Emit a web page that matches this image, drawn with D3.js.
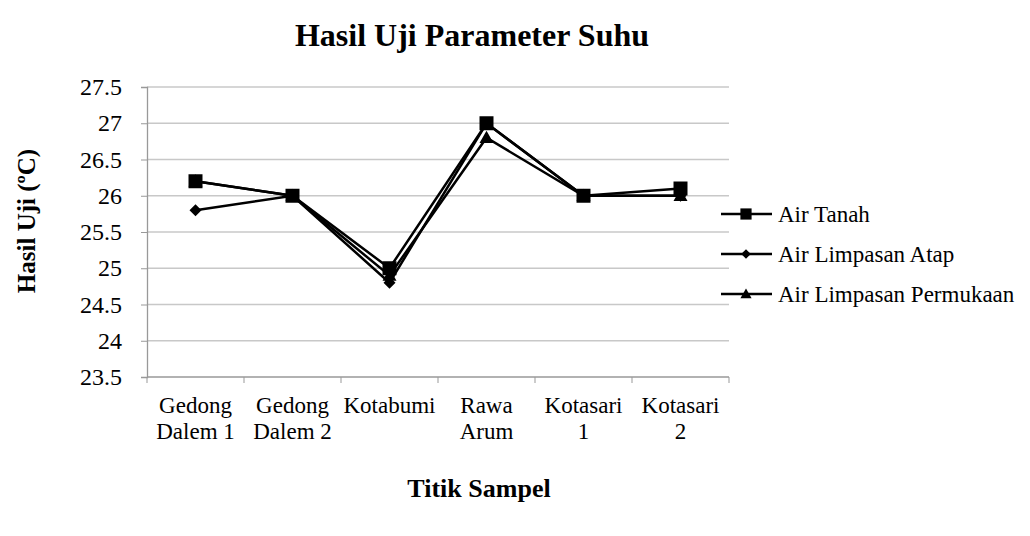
<!DOCTYPE html>
<html><head><meta charset="utf-8">
<script src="https://cdn.jsdelivr.net/npm/d3@7"></script>
<style>body{margin:0;background:#fff}svg{font-family:"Liberation Serif","Times New Roman",serif}</style>
</head><body><svg id="c" width="1030" height="536"></svg>
<script>
const categories = [["Gedong","Dalem 1"],["Gedong","Dalem 2"],["Kotabumi"],["Rawa","Arum"],["Kotasari","1"],["Kotasari","2"]];
const seriesNames = ["Air Tanah","Air Limpasan Atap","Air Limpasan Permukaan"];
const airTanah = [26.2, 26.0, 25.0, 27.0, 26.0, 26.1];
const airAtap = [25.8, 26.0, 24.8, 27.0, 26.0, 26.0];
const airPermukaan = [26.2, 26.0, 24.9, 26.8, 26.0, 26.0];
const yTicks = [23.5,24,24.5,25,25.5,26,26.5,27,27.5];

const svg = d3.select("#c");
const L=147,R=729,T=87,B=377;
const x = d3.scaleBand().domain(d3.range(categories.length)).range([L,R]);
const y = d3.scaleLinear().domain([23.5,27.5]).range([B,T]);

svg.append("text").attr("x",472).attr("y",46).attr("text-anchor","middle").attr("font-weight","bold").attr("font-size",32).text("Hasil Uji Parameter Suhu");

svg.append("g").selectAll("line").data(yTicks.slice(1)).join("line")
 .attr("x1",L).attr("x2",R).attr("y1",d=>y(d)).attr("y2",d=>y(d)).attr("stroke","#c8c8c8").attr("stroke-width",1.3);

const ya = svg.append("g").attr("transform",`translate(${L},0)`).call(d3.axisLeft(y).tickValues(yTicks).tickSize(6).tickFormat(d=>String(d)));
ya.select(".domain").attr("stroke","#999").attr("stroke-width",1.3);
ya.selectAll(".tick line").attr("stroke","#999");
ya.selectAll("text").attr("font-size",24).attr("font-family","Liberation Serif").attr("fill","#000").attr("x",-25).attr("dy","0.32em");

const xa = svg.append("g").attr("transform",`translate(0,${B})`);
xa.append("line").attr("x1",L).attr("x2",R).attr("stroke","#999").attr("stroke-width",1.3);
const edges = d3.range(categories.length+1).map(i=> i<categories.length? x(i): x(categories.length-1)+x.bandwidth());
xa.selectAll(".tk").data(edges).join("line").attr("x1",d=>d).attr("x2",d=>d).attr("y1",0).attr("y2",6).attr("stroke","#999");
const lbl = xa.selectAll(".lb").data(categories).join("text").attr("font-size",23).attr("text-anchor","middle");
lbl.each(function(d,i){
  const t=d3.select(this);
  d.forEach((s,j)=>t.append("tspan").attr("x",x(i)+x.bandwidth()/2).attr("y",36+j*26).text(s));
});

svg.append("text").attr("transform","translate(35,221) rotate(-90)").attr("text-anchor","middle").attr("font-weight","bold").attr("font-size",25).text("Hasil Uji (ºC)");
svg.append("text").attr("x",479).attr("y",497).attr("text-anchor","middle").attr("font-weight","bold").attr("font-size",26).text("Titik Sampel");

const cx = i=>x(i)+x.bandwidth()/2;
const data = [airTanah, airAtap, airPermukaan];
function marker(k, s){
  if(k===0){ const h=7*s; return `M${-h},${-h}H${h}V${h}H${-h}Z`; }
  if(k===1){ const h=6*s; return `M0,${-h}L${h},0L0,${h}L${-h},0Z`; }
  const h=7*s; return `M0,${-h}L${h},${h*0.75}L${-h},${h*0.75}Z`;
}
const line = d3.line().x((d,i)=>cx(i)).y(d=>y(d));
const order=[2,1,0];
order.forEach(k=>{
  svg.append("path").attr("d",line(data[k])).attr("fill","none").attr("stroke","#000").attr("stroke-width",2.5);
});
order.forEach(k=>{
  svg.append("g").selectAll("path").data(data[k]).join("path")
   .attr("transform",(d,i)=>`translate(${cx(i)},${y(d)})`)
   .attr("d",marker(k,1)).attr("fill","#000");
});

const lg = svg.append("g");
seriesNames.forEach((n,k)=>{
  const yy = 214+k*40;
  lg.append("line").attr("x1",721).attr("x2",772).attr("y1",yy).attr("y2",yy).attr("stroke","#000").attr("stroke-width",2.5);
  lg.append("path").attr("transform",`translate(746,${yy})`).attr("d",marker(k,0.8)).attr("fill","#000");
  lg.append("text").attr("x",778).attr("y",yy).attr("dy","0.35em").attr("font-size",23).text(n);
});
</script></body></html>
